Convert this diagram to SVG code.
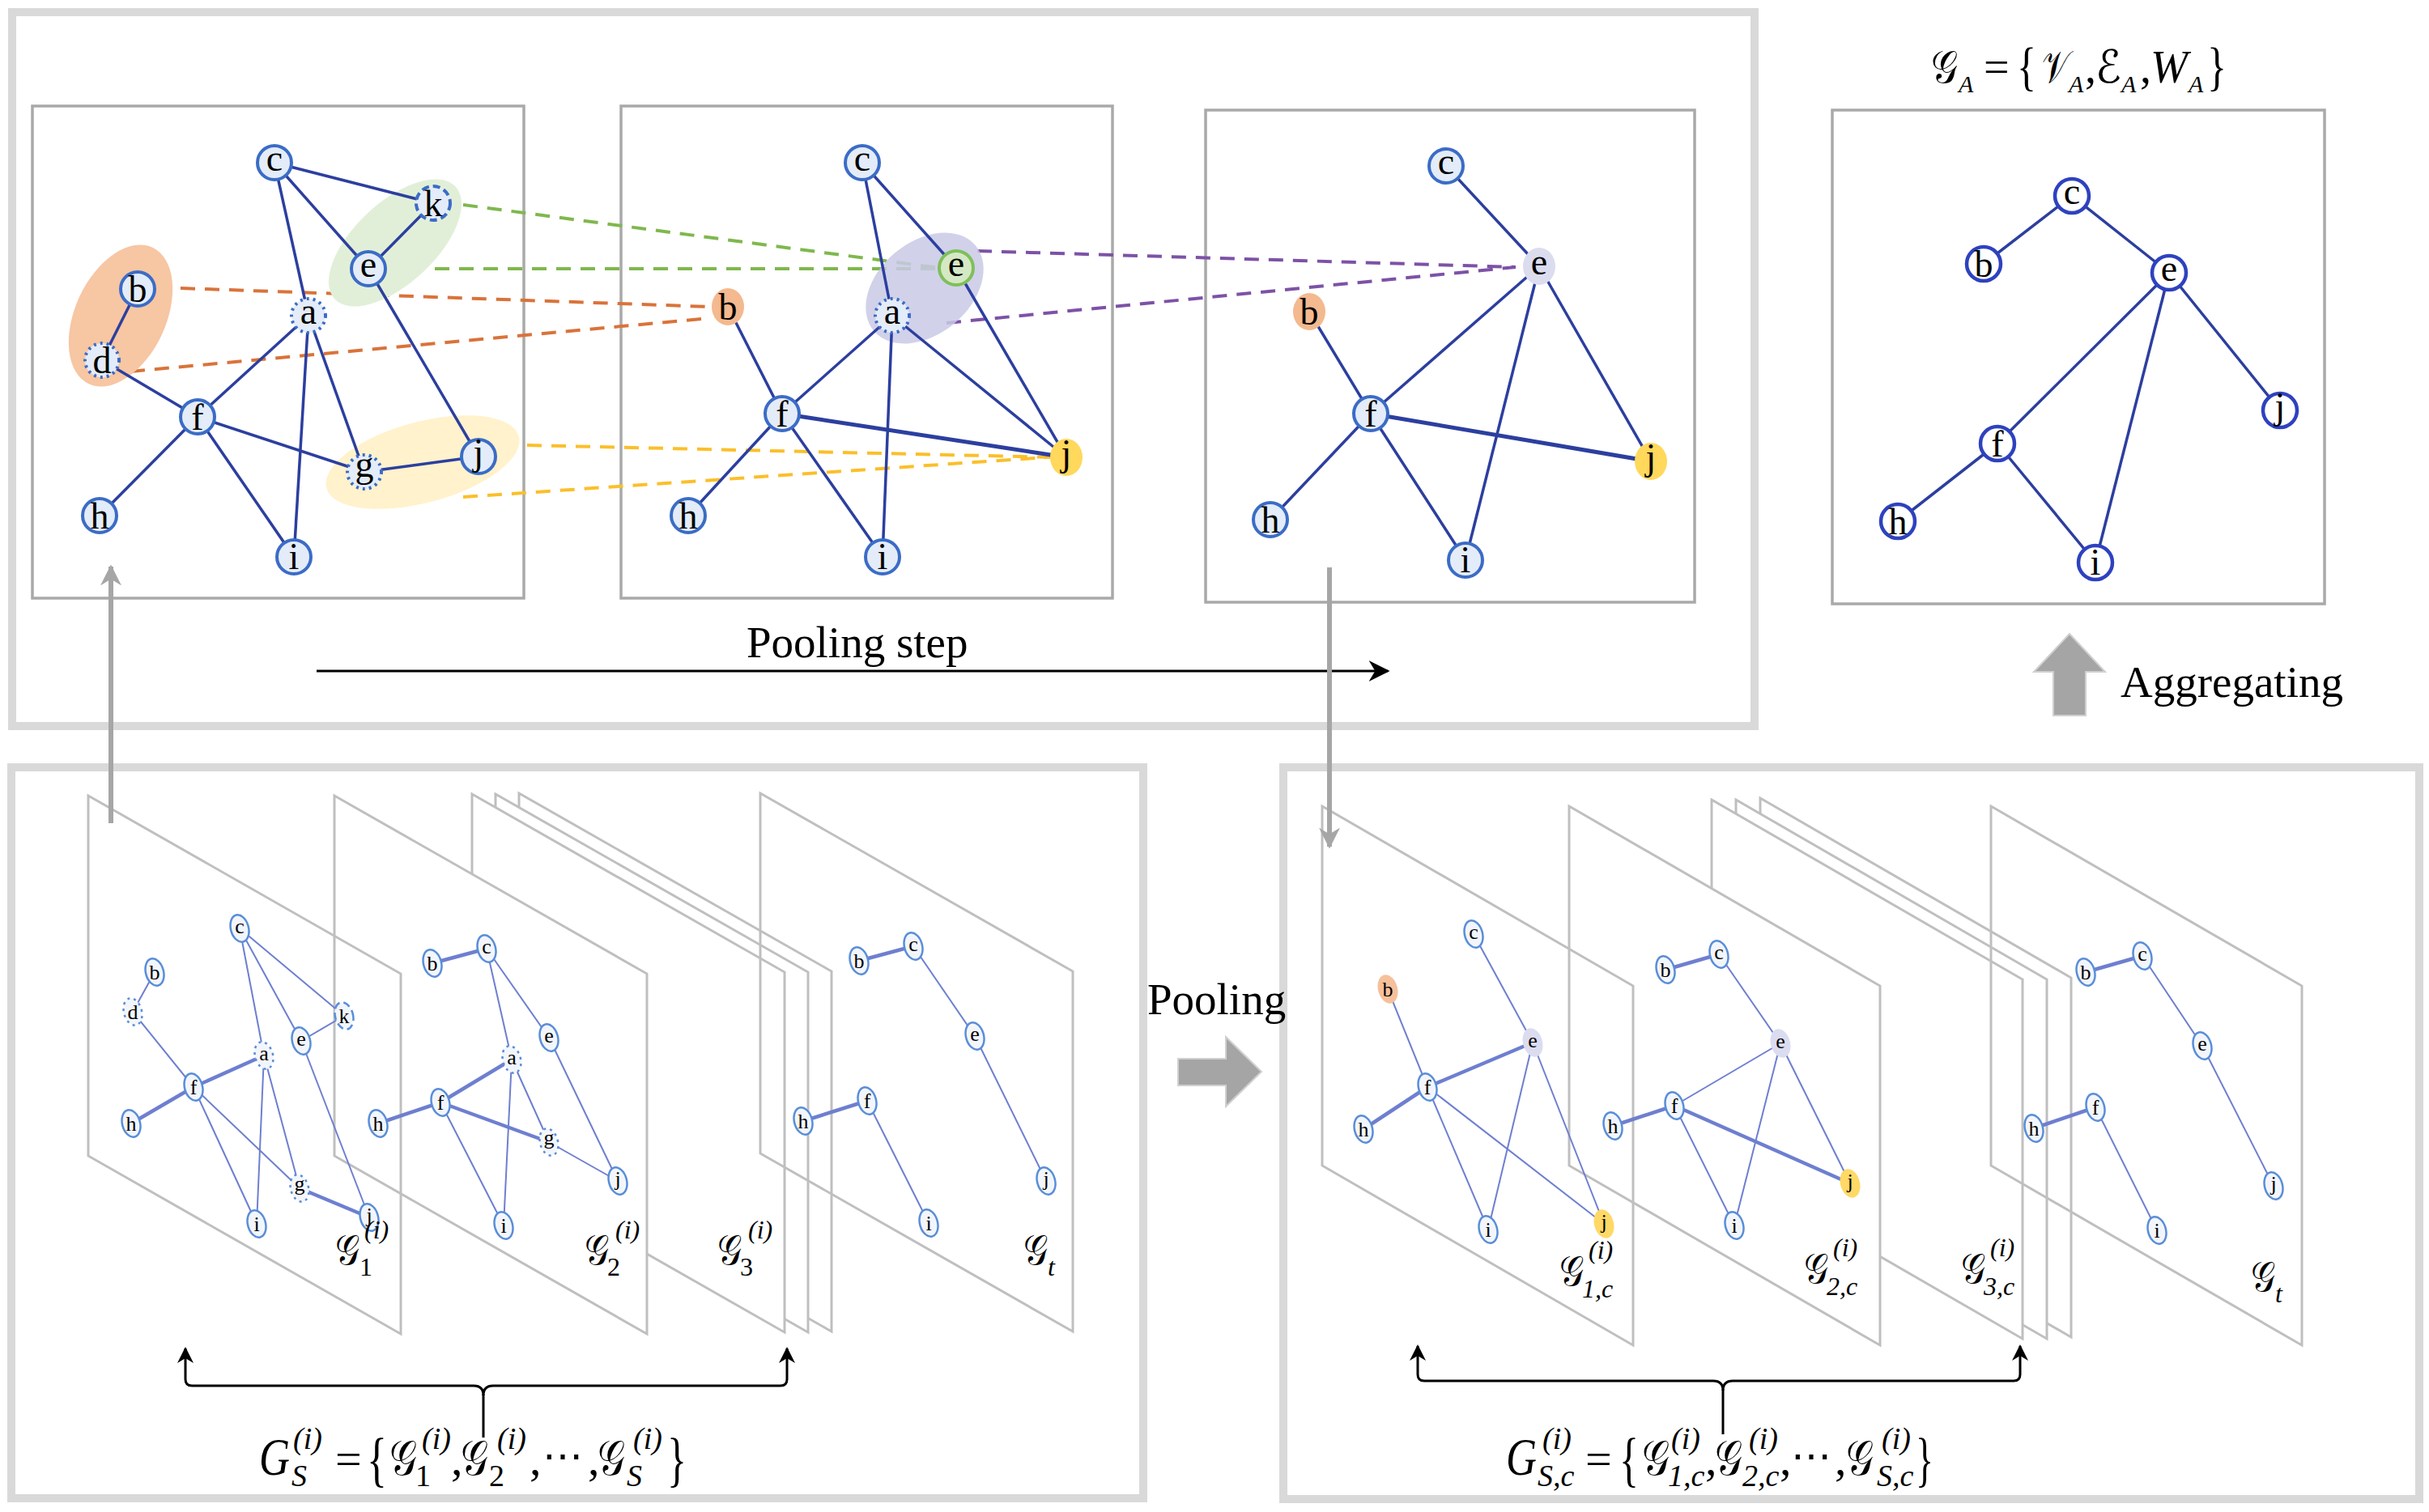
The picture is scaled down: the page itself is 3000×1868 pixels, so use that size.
<svg xmlns="http://www.w3.org/2000/svg" width="3000" height="1868" viewBox="0 0 3000 1868">
<defs>
<style>
.outer{fill:none;stroke:#d9d9d9;stroke-width:10}
.panel{fill:none;stroke:#a9a9a9;stroke-width:3.5}
.e{stroke:#2c3f9f;stroke-width:3.5;fill:none}
.et{stroke:#2c3f9f;stroke-width:5;fill:none}
.n{fill:#e3ecf8;stroke:#3b6cc6;stroke-width:4}
.dot{stroke-dasharray:3 5}
.dsh{stroke-dasharray:9 5}
.w{fill:#fff;stroke:#2e42bf;stroke-width:4.5}
.lb{font-family:"Liberation Serif","Times New Roman",serif;font-size:46px;text-anchor:middle;fill:#000}
.dl{fill:none;stroke-width:4;stroke-dasharray:18 12}
.pl{fill:#fff;stroke:#bfbfbf;stroke-width:3}
.plo{fill:none;stroke:#bfbfbf;stroke-width:3}
.se{stroke:#6e7fd0;stroke-width:2;fill:none}
.st{stroke:#6e7fd0;stroke-width:4.5;fill:none}
.sn{fill:#f2f6fc;stroke:#5a8ed8;stroke-width:2.5}
.sl{font-family:"Liberation Serif","Times New Roman",serif;font-size:26px;text-anchor:middle;fill:#000}
.tx{font-family:"Liberation Serif","Times New Roman",serif;font-size:55px;fill:#000}
.m{font-family:"Liberation Serif","Times New Roman",serif;font-style:italic;fill:#000}
.u{font-family:"Liberation Serif","Times New Roman",serif;font-style:normal;fill:#000}
.cal{font-family:"DejaVu Serif","DejaVu Sans","Noto Sans",serif;fill:#000}
.blk{stroke:#000;stroke-width:3;fill:none}
.gray{stroke:#a6a6a6;stroke-width:6;fill:none}
</style>
<marker id="ab" viewBox="0 0 10 10" refX="9" refY="5" markerWidth="20" markerHeight="20" markerUnits="userSpaceOnUse" orient="auto-start-reverse"><path d="M0,0 L10,5 L0,10 L3,5 Z" fill="#000"/></marker>
<marker id="abk" viewBox="0 0 10 10" refX="9" refY="5" markerWidth="26" markerHeight="26" markerUnits="userSpaceOnUse" orient="auto"><path d="M0,0 L10,5 L0,10 L3,5 Z" fill="#000"/></marker>
<marker id="ag" viewBox="0 0 10 10" refX="9" refY="5" markerWidth="26" markerHeight="26" markerUnits="userSpaceOnUse" orient="auto"><path d="M0,0 L10,5 L0,10 L3,5 Z" fill="#a6a6a6"/></marker>
</defs>
<rect width="3000" height="1868" fill="#fff"/>

<g id="frames">
<rect class="outer" x="15" y="15" width="2152" height="882"/>
<rect class="outer" x="14" y="948" width="1398" height="903"/>
<rect class="outer" x="1585" y="948" width="1403" height="904"/>
<rect class="panel" x="40" y="131" width="607" height="608"/>
<rect class="panel" x="767" y="131" width="607" height="608"/>
<rect class="panel" x="1489" y="136" width="604" height="608"/>
<rect class="panel" x="2263" y="136" width="608" height="610"/>
</g>

<g id="planes-left">
<polygon class="pl" points="641,980 1027,1200 1027,1645 641,1425"/>
<polygon class="pl" points="612,981 998,1201 998,1646 612,1426"/>
<polygon class="pl" points="583,981 969,1201 969,1646 583,1426"/>
<polygon class="pl" points="413,983 799,1203 799,1648 413,1428"/>
<polygon class="plo" points="109,983 495,1203 495,1648 109,1428"/>
<polygon class="plo" points="939,980 1325,1200 1325,1645 939,1425"/>
</g>
<g id="planes-right">
<polygon class="pl" points="2174,986 2558,1208 2558,1652 2174,1430"/>
<polygon class="pl" points="2144,988 2528,1210 2528,1654 2144,1432"/>
<polygon class="pl" points="2114,988 2498,1210 2498,1654 2114,1432"/>
<polygon class="pl" points="1938,996 2322,1218 2322,1662 1938,1440"/>
<polygon class="plo" points="1633,996 2017,1218 2017,1662 1633,1440"/>
<polygon class="plo" points="2459,996 2843,1218 2843,1662 2459,1440"/>
</g>

<g id="connectors">
<line class="dl" stroke="#7fb84e" x1="572" y1="253" x2="1160" y2="331"/>
<line class="dl" stroke="#7fb84e" x1="537" y1="332" x2="1160" y2="332"/>
<line class="dl" stroke="#d9733a" x1="223" y1="356" x2="877" y2="379"/>
<line class="dl" stroke="#d9733a" x1="161" y1="459" x2="877" y2="393"/>
<line class="dl" stroke="#fbbf2a" x1="651" y1="550" x2="1303" y2="565"/>
<line class="dl" stroke="#fbbf2a" x1="572" y1="614" x2="1293" y2="565"/>
<line class="dl" stroke="#7d52a6" x1="1207" y1="310" x2="1872" y2="330"/>
<line class="dl" stroke="#7d52a6" x1="1169" y1="399" x2="1872" y2="330"/>
</g>

<g id="highlights">
<ellipse cx="149" cy="390" rx="93" ry="56" transform="rotate(-65 149 390)" fill="#f7c6a3"/>
<ellipse cx="488" cy="300" rx="102" ry="50" transform="rotate(-43 488 300)" fill="#e2efd8"/>
<ellipse cx="522" cy="571" rx="123" ry="50" transform="rotate(-15 522 571)" fill="#fff2cc"/>
<ellipse cx="1142" cy="356" rx="82" ry="57" transform="rotate(-40 1142 356)" fill="#c9c9e6" fill-opacity="0.85"/>
</g>

<g id="edges">
<g id="p1-edges">
<line class="e" x1="339" y1="201" x2="535" y2="251"/>
<line class="e" x1="339" y1="201" x2="455" y2="332"/>
<line class="e" x1="339" y1="201" x2="381" y2="390"/>
<line class="e" x1="535" y1="251" x2="455" y2="332"/>
<line class="e" x1="455" y1="332" x2="591" y2="564"/>
<line class="e" x1="170" y1="357" x2="126" y2="445"/>
<line class="e" x1="126" y1="445" x2="244" y2="515"/>
<line class="e" x1="244" y1="515" x2="381" y2="390"/>
<line class="e" x1="244" y1="515" x2="450" y2="583"/>
<line class="e" x1="244" y1="515" x2="123" y2="637"/>
<line class="e" x1="244" y1="515" x2="363" y2="688"/>
<line class="e" x1="381" y1="390" x2="363" y2="688"/>
<line class="e" x1="381" y1="390" x2="450" y2="583"/>
<line class="e" x1="450" y1="583" x2="591" y2="564"/>
</g>
<g id="p2-edges">
<line class="e" x1="1065" y1="201" x2="1102" y2="390"/>
<line class="e" x1="1065" y1="201" x2="1181" y2="331"/>
<line class="e" x1="899" y1="379" x2="966" y2="511"/>
<line class="e" x1="966" y1="511" x2="1102" y2="390"/>
<line class="e" x1="966" y1="511" x2="850" y2="637"/>
<line class="e" x1="966" y1="511" x2="1090" y2="688"/>
<line class="et" x1="966" y1="511" x2="1317" y2="565"/>
<line class="e" x1="1102" y1="390" x2="1090" y2="688"/>
<line class="e" x1="1102" y1="390" x2="1317" y2="565"/>
<line class="e" x1="1181" y1="331" x2="1317" y2="565"/>
</g>
<g id="p3-edges">
<line class="e" x1="1786" y1="205" x2="1901" y2="329"/>
<line class="e" x1="1617" y1="385" x2="1693" y2="511"/>
<line class="e" x1="1693" y1="511" x2="1901" y2="329"/>
<line class="e" x1="1693" y1="511" x2="1569" y2="642"/>
<line class="e" x1="1693" y1="511" x2="1810" y2="692"/>
<line class="et" x1="1693" y1="511" x2="2039" y2="570"/>
<line class="e" x1="1901" y1="329" x2="1810" y2="692"/>
<line class="e" x1="1901" y1="329" x2="2039" y2="570"/>
</g>
<g id="p4-edges">
<line class="e" x1="2559" y1="242" x2="2450" y2="326"/>
<line class="e" x1="2559" y1="242" x2="2679" y2="337"/>
<line class="e" x1="2679" y1="337" x2="2467" y2="548"/>
<line class="e" x1="2679" y1="337" x2="2588" y2="695"/>
<line class="e" x1="2679" y1="337" x2="2816" y2="507"/>
<line class="e" x1="2467" y1="548" x2="2344" y2="644"/>
<line class="e" x1="2467" y1="548" x2="2588" y2="695"/>
</g>
<g id="l1-edges">
<line class="se" x1="296" y1="1147" x2="326" y2="1304"/>
<line class="se" x1="296" y1="1147" x2="372" y2="1286"/>
<line class="se" x1="296" y1="1147" x2="425" y2="1255"/>
<line class="se" x1="425" y1="1255" x2="372" y2="1286"/>
<line class="se" x1="372" y1="1286" x2="456" y2="1504"/>
<line class="se" x1="191" y1="1201" x2="164" y2="1250"/>
<line class="se" x1="164" y1="1250" x2="239" y2="1343"/>
<line class="st" x1="239" y1="1343" x2="326" y2="1304"/>
<line class="st" x1="239" y1="1343" x2="162" y2="1388"/>
<line class="se" x1="239" y1="1343" x2="317" y2="1512"/>
<line class="se" x1="239" y1="1343" x2="370" y2="1468"/>
<line class="se" x1="326" y1="1304" x2="317" y2="1512"/>
<line class="se" x1="326" y1="1304" x2="370" y2="1468"/>
<line class="st" x1="370" y1="1468" x2="456" y2="1504"/>
</g>
<g id="l2-edges">
<line class="st" x1="534" y1="1190" x2="601" y2="1172"/>
<line class="se" x1="601" y1="1172" x2="632" y2="1309"/>
<line class="se" x1="601" y1="1172" x2="678" y2="1282"/>
<line class="se" x1="678" y1="1282" x2="763" y2="1459"/>
<line class="st" x1="632" y1="1309" x2="544" y2="1362"/>
<line class="se" x1="632" y1="1309" x2="622" y2="1514"/>
<line class="se" x1="632" y1="1309" x2="678" y2="1411"/>
<line class="st" x1="544" y1="1362" x2="467" y2="1388"/>
<line class="st" x1="544" y1="1362" x2="678" y2="1411"/>
<line class="se" x1="544" y1="1362" x2="622" y2="1514"/>
<line class="se" x1="678" y1="1411" x2="763" y2="1459"/>
</g>
<g id="lt-edges">
<line class="st" x1="1061" y1="1187" x2="1128" y2="1169"/>
<line class="se" x1="1128" y1="1169" x2="1204" y2="1280"/>
<line class="se" x1="1204" y1="1280" x2="1292" y2="1459"/>
<line class="st" x1="992" y1="1385" x2="1071" y2="1360"/>
<line class="se" x1="1071" y1="1360" x2="1147" y2="1511"/>
</g>
<g id="r1-edges">
<line class="se" x1="1820" y1="1154" x2="1893" y2="1288"/>
<line class="se" x1="1714" y1="1222" x2="1763" y2="1343"/>
<line class="st" x1="1893" y1="1288" x2="1763" y2="1343"/>
<line class="st" x1="1763" y1="1343" x2="1684" y2="1395"/>
<line class="se" x1="1763" y1="1343" x2="1838" y2="1519"/>
<line class="se" x1="1763" y1="1343" x2="1981" y2="1512"/>
<line class="se" x1="1893" y1="1288" x2="1838" y2="1519"/>
<line class="se" x1="1893" y1="1288" x2="1981" y2="1512"/>
</g>
<g id="r2-edges">
<line class="st" x1="2057" y1="1198" x2="2123" y2="1179"/>
<line class="se" x1="2123" y1="1179" x2="2199" y2="1289"/>
<line class="se" x1="2199" y1="1289" x2="2068" y2="1366"/>
<line class="se" x1="2199" y1="1289" x2="2142" y2="1514"/>
<line class="se" x1="2199" y1="1289" x2="2285" y2="1462"/>
<line class="st" x1="2068" y1="1366" x2="1992" y2="1391"/>
<line class="se" x1="2068" y1="1366" x2="2142" y2="1514"/>
<line class="st" x1="2068" y1="1366" x2="2285" y2="1462"/>
</g>
<g id="rt-edges">
<line class="st" x1="2576" y1="1201" x2="2646" y2="1181"/>
<line class="se" x1="2646" y1="1181" x2="2720" y2="1292"/>
<line class="se" x1="2720" y1="1292" x2="2808" y2="1465"/>
<line class="st" x1="2512" y1="1394" x2="2588" y2="1368"/>
<line class="se" x1="2588" y1="1368" x2="2664" y2="1520"/>
</g>
</g>

<g id="p1">
<g id="p1-c"><circle class="n" cx="339" cy="201" r="21"/><text class="lb" x="339" y="211">c</text></g>
<g id="p1-k"><circle class="n dsh" cx="535" cy="251" r="21"/><text class="lb" x="535" y="267">k</text></g>
<g id="p1-e"><circle class="n" cx="455" cy="332" r="21"/><text class="lb" x="455" y="342">e</text></g>
<g id="p1-b"><circle class="n" cx="170" cy="357" r="21"/><text class="lb" x="170" y="373">b</text></g>
<g id="p1-a"><circle class="n dot" cx="381" cy="390" r="21"/><text class="lb" x="381" y="400">a</text></g>
<g id="p1-d"><circle class="n dot" cx="126" cy="445" r="21"/><text class="lb" x="126" y="461">d</text></g>
<g id="p1-f"><circle class="n" cx="244" cy="515" r="21"/><text class="lb" x="244" y="531">f</text></g>
<g id="p1-g"><circle class="n dot" cx="450" cy="583" r="21"/><text class="lb" x="450" y="589">g</text></g>
<g id="p1-j"><circle class="n" cx="591" cy="564" r="21"/><text class="lb" x="591" y="574">j</text></g>
<g id="p1-h"><circle class="n" cx="123" cy="637" r="21"/><text class="lb" x="123" y="653">h</text></g>
<g id="p1-i"><circle class="n" cx="363" cy="688" r="21"/><text class="lb" x="363" y="703">i</text></g>
</g>
<g id="p2">
<g id="p2-c"><circle class="n" cx="1065" cy="201" r="21"/><text class="lb" x="1065" y="211">c</text></g>
<g id="p2-e"><circle cx="1181" cy="331" r="21" fill="#d5e8c4" stroke="#7fbf5a" stroke-width="4"/><text class="lb" x="1181" y="341">e</text></g>
<g id="p2-b"><ellipse cx="899" cy="379" rx="20" ry="23" fill="#f4b98e"/><text class="lb" x="899" y="395">b</text></g>
<g id="p2-a"><circle class="n dot" cx="1102" cy="390" r="21"/><text class="lb" x="1102" y="400">a</text></g>
<g id="p2-f"><circle class="n" cx="966" cy="511" r="21"/><text class="lb" x="966" y="527">f</text></g>
<g id="p2-j"><ellipse cx="1317" cy="565" rx="20" ry="23" fill="#ffd85c"/><text class="lb" x="1317" y="575">j</text></g>
<g id="p2-h"><circle class="n" cx="850" cy="637" r="21"/><text class="lb" x="850" y="653">h</text></g>
<g id="p2-i"><circle class="n" cx="1090" cy="688" r="21"/><text class="lb" x="1090" y="703">i</text></g>
</g>
<g id="p3">
<g id="p3-c"><circle class="n" cx="1786" cy="205" r="21"/><text class="lb" x="1786" y="215">c</text></g>
<g id="p3-e"><ellipse cx="1901" cy="329" rx="20" ry="23" fill="#dcdcef"/><text class="lb" x="1901" y="339">e</text></g>
<g id="p3-b"><ellipse cx="1617" cy="385" rx="20" ry="23" fill="#f4b98e"/><text class="lb" x="1617" y="401">b</text></g>
<g id="p3-f"><circle class="n" cx="1693" cy="511" r="21"/><text class="lb" x="1693" y="527">f</text></g>
<g id="p3-j"><ellipse cx="2039" cy="570" rx="20" ry="23" fill="#ffd85c"/><text class="lb" x="2039" y="580">j</text></g>
<g id="p3-h"><circle class="n" cx="1569" cy="642" r="21"/><text class="lb" x="1569" y="658">h</text></g>
<g id="p3-i"><circle class="n" cx="1810" cy="692" r="21"/><text class="lb" x="1810" y="707">i</text></g>
</g>
<g id="p4">
<g id="p4-c"><circle class="w" cx="2559" cy="242" r="21"/><text class="lb" x="2559" y="252">c</text></g>
<g id="p4-b"><circle class="w" cx="2450" cy="326" r="21"/><text class="lb" x="2450" y="342">b</text></g>
<g id="p4-e"><circle class="w" cx="2679" cy="337" r="21"/><text class="lb" x="2679" y="347">e</text></g>
<g id="p4-j"><circle class="w" cx="2816" cy="507" r="21"/><text class="lb" x="2816" y="517">j</text></g>
<g id="p4-f"><circle class="w" cx="2467" cy="548" r="21"/><text class="lb" x="2467" y="564">f</text></g>
<g id="p4-h"><circle class="w" cx="2344" cy="644" r="21"/><text class="lb" x="2344" y="660">h</text></g>
<g id="p4-i"><circle class="w" cx="2588" cy="695" r="21"/><text class="lb" x="2588" y="710">i</text></g>
</g>

<g id="l1">
<g id="l1-c"><ellipse class="sn" cx="296" cy="1147" rx="11" ry="17" transform="rotate(-15 296 1147)"/><text class="sl" x="296" y="1153">c</text></g>
<g id="l1-b"><ellipse class="sn" cx="191" cy="1201" rx="11" ry="17" transform="rotate(-15 191 1201)"/><text class="sl" x="191" y="1210">b</text></g>
<g id="l1-d"><ellipse class="sn dot" cx="164" cy="1250" rx="11" ry="17" transform="rotate(-15 164 1250)"/><text class="sl" x="164" y="1259">d</text></g>
<g id="l1-k"><ellipse class="sn dsh" cx="425" cy="1255" rx="11" ry="17" transform="rotate(-15 425 1255)"/><text class="sl" x="425" y="1264">k</text></g>
<g id="l1-e"><ellipse class="sn" cx="372" cy="1286" rx="11" ry="17" transform="rotate(-15 372 1286)"/><text class="sl" x="372" y="1292">e</text></g>
<g id="l1-a"><ellipse class="sn dot" cx="326" cy="1304" rx="11" ry="17" transform="rotate(-15 326 1304)"/><text class="sl" x="326" y="1310">a</text></g>
<g id="l1-f"><ellipse class="sn" cx="239" cy="1343" rx="11" ry="17" transform="rotate(-15 239 1343)"/><text class="sl" x="239" y="1352">f</text></g>
<g id="l1-h"><ellipse class="sn" cx="162" cy="1388" rx="11" ry="17" transform="rotate(-15 162 1388)"/><text class="sl" x="162" y="1397">h</text></g>
<g id="l1-g"><ellipse class="sn dot" cx="370" cy="1468" rx="11" ry="17" transform="rotate(-15 370 1468)"/><text class="sl" x="370" y="1471">g</text></g>
<g id="l1-i"><ellipse class="sn" cx="317" cy="1512" rx="11" ry="17" transform="rotate(-15 317 1512)"/><text class="sl" x="317" y="1521">i</text></g>
<g id="l1-j"><ellipse class="sn" cx="456" cy="1504" rx="11" ry="17" transform="rotate(-15 456 1504)"/><text class="sl" x="456" y="1510">j</text></g>
</g>
<g id="l2">
<g id="l2-b"><ellipse class="sn" cx="534" cy="1190" rx="11" ry="17" transform="rotate(-15 534 1190)"/><text class="sl" x="534" y="1199">b</text></g>
<g id="l2-c"><ellipse class="sn" cx="601" cy="1172" rx="11" ry="17" transform="rotate(-15 601 1172)"/><text class="sl" x="601" y="1178">c</text></g>
<g id="l2-e"><ellipse class="sn" cx="678" cy="1282" rx="11" ry="17" transform="rotate(-15 678 1282)"/><text class="sl" x="678" y="1288">e</text></g>
<g id="l2-a"><ellipse class="sn dot" cx="632" cy="1309" rx="11" ry="17" transform="rotate(-15 632 1309)"/><text class="sl" x="632" y="1315">a</text></g>
<g id="l2-f"><ellipse class="sn" cx="544" cy="1362" rx="11" ry="17" transform="rotate(-15 544 1362)"/><text class="sl" x="544" y="1371">f</text></g>
<g id="l2-h"><ellipse class="sn" cx="467" cy="1388" rx="11" ry="17" transform="rotate(-15 467 1388)"/><text class="sl" x="467" y="1397">h</text></g>
<g id="l2-g"><ellipse class="sn dot" cx="678" cy="1411" rx="11" ry="17" transform="rotate(-15 678 1411)"/><text class="sl" x="678" y="1414">g</text></g>
<g id="l2-j"><ellipse class="sn" cx="763" cy="1459" rx="11" ry="17" transform="rotate(-15 763 1459)"/><text class="sl" x="763" y="1465">j</text></g>
<g id="l2-i"><ellipse class="sn" cx="622" cy="1514" rx="11" ry="17" transform="rotate(-15 622 1514)"/><text class="sl" x="622" y="1523">i</text></g>
</g>
<g id="lt">
<g id="lt-b"><ellipse class="sn" cx="1061" cy="1187" rx="11" ry="17" transform="rotate(-15 1061 1187)"/><text class="sl" x="1061" y="1196">b</text></g>
<g id="lt-c"><ellipse class="sn" cx="1128" cy="1169" rx="11" ry="17" transform="rotate(-15 1128 1169)"/><text class="sl" x="1128" y="1175">c</text></g>
<g id="lt-e"><ellipse class="sn" cx="1204" cy="1280" rx="11" ry="17" transform="rotate(-15 1204 1280)"/><text class="sl" x="1204" y="1286">e</text></g>
<g id="lt-j"><ellipse class="sn" cx="1292" cy="1459" rx="11" ry="17" transform="rotate(-15 1292 1459)"/><text class="sl" x="1292" y="1465">j</text></g>
<g id="lt-f"><ellipse class="sn" cx="1071" cy="1360" rx="11" ry="17" transform="rotate(-15 1071 1360)"/><text class="sl" x="1071" y="1369">f</text></g>
<g id="lt-h"><ellipse class="sn" cx="992" cy="1385" rx="11" ry="17" transform="rotate(-15 992 1385)"/><text class="sl" x="992" y="1394">h</text></g>
<g id="lt-i"><ellipse class="sn" cx="1147" cy="1511" rx="11" ry="17" transform="rotate(-15 1147 1511)"/><text class="sl" x="1147" y="1520">i</text></g>
</g>
<g id="r1">
<g id="r1-c"><ellipse class="sn" cx="1820" cy="1154" rx="11" ry="17" transform="rotate(-15 1820 1154)"/><text class="sl" x="1820" y="1160">c</text></g>
<g id="r1-b"><ellipse cx="1714" cy="1222" rx="12" ry="18" fill="#f6c09a" transform="rotate(-15 1714 1222)"/><text class="sl" x="1714" y="1231">b</text></g>
<g id="r1-e"><ellipse cx="1893" cy="1288" rx="12" ry="18" fill="#dcdcf0" transform="rotate(-15 1893 1288)"/><text class="sl" x="1893" y="1294">e</text></g>
<g id="r1-f"><ellipse class="sn" cx="1763" cy="1343" rx="11" ry="17" transform="rotate(-15 1763 1343)"/><text class="sl" x="1763" y="1352">f</text></g>
<g id="r1-h"><ellipse class="sn" cx="1684" cy="1395" rx="11" ry="17" transform="rotate(-15 1684 1395)"/><text class="sl" x="1684" y="1404">h</text></g>
<g id="r1-i"><ellipse class="sn" cx="1838" cy="1519" rx="11" ry="17" transform="rotate(-15 1838 1519)"/><text class="sl" x="1838" y="1528">i</text></g>
<g id="r1-j"><ellipse cx="1981" cy="1512" rx="12" ry="18" fill="#ffd966" transform="rotate(-15 1981 1512)"/><text class="sl" x="1981" y="1518">j</text></g>
</g>
<g id="r2">
<g id="r2-b"><ellipse class="sn" cx="2057" cy="1198" rx="11" ry="17" transform="rotate(-15 2057 1198)"/><text class="sl" x="2057" y="1207">b</text></g>
<g id="r2-c"><ellipse class="sn" cx="2123" cy="1179" rx="11" ry="17" transform="rotate(-15 2123 1179)"/><text class="sl" x="2123" y="1185">c</text></g>
<g id="r2-e"><ellipse cx="2199" cy="1289" rx="12" ry="18" fill="#dcdcf0" transform="rotate(-15 2199 1289)"/><text class="sl" x="2199" y="1295">e</text></g>
<g id="r2-f"><ellipse class="sn" cx="2068" cy="1366" rx="11" ry="17" transform="rotate(-15 2068 1366)"/><text class="sl" x="2068" y="1375">f</text></g>
<g id="r2-h"><ellipse class="sn" cx="1992" cy="1391" rx="11" ry="17" transform="rotate(-15 1992 1391)"/><text class="sl" x="1992" y="1400">h</text></g>
<g id="r2-j"><ellipse cx="2285" cy="1462" rx="12" ry="18" fill="#ffd966" transform="rotate(-15 2285 1462)"/><text class="sl" x="2285" y="1468">j</text></g>
<g id="r2-i"><ellipse class="sn" cx="2142" cy="1514" rx="11" ry="17" transform="rotate(-15 2142 1514)"/><text class="sl" x="2142" y="1523">i</text></g>
</g>
<g id="rt">
<g id="rt-b"><ellipse class="sn" cx="2576" cy="1201" rx="11" ry="17" transform="rotate(-15 2576 1201)"/><text class="sl" x="2576" y="1210">b</text></g>
<g id="rt-c"><ellipse class="sn" cx="2646" cy="1181" rx="11" ry="17" transform="rotate(-15 2646 1181)"/><text class="sl" x="2646" y="1187">c</text></g>
<g id="rt-e"><ellipse class="sn" cx="2720" cy="1292" rx="11" ry="17" transform="rotate(-15 2720 1292)"/><text class="sl" x="2720" y="1298">e</text></g>
<g id="rt-j"><ellipse class="sn" cx="2808" cy="1465" rx="11" ry="17" transform="rotate(-15 2808 1465)"/><text class="sl" x="2808" y="1471">j</text></g>
<g id="rt-f"><ellipse class="sn" cx="2588" cy="1368" rx="11" ry="17" transform="rotate(-15 2588 1368)"/><text class="sl" x="2588" y="1377">f</text></g>
<g id="rt-h"><ellipse class="sn" cx="2512" cy="1394" rx="11" ry="17" transform="rotate(-15 2512 1394)"/><text class="sl" x="2512" y="1403">h</text></g>
<g id="rt-i"><ellipse class="sn" cx="2664" cy="1520" rx="11" ry="17" transform="rotate(-15 2664 1520)"/><text class="sl" x="2664" y="1529">i</text></g>
</g>

<g id="arrows">
<line class="blk" x1="391" y1="829" x2="1714" y2="829" marker-end="url(#abk)"/>
<line class="gray" x1="137" y1="1017" x2="137" y2="700" marker-end="url(#ag)"/>
<line class="gray" x1="1642" y1="701" x2="1642" y2="1046" marker-end="url(#ag)"/>
<polygon points="1455,1308 1514,1308 1514,1281 1558,1324 1514,1367 1514,1341 1455,1341" fill="#a5a5a5" stroke="#d0d0d0" stroke-width="2"/>
<polygon points="2536,884 2536,830 2512,830 2556,783 2600,830 2576,830 2576,884" fill="#a5a5a5" stroke="#d0d0d0" stroke-width="2"/>
<path class="blk" d="M229,1666 V1704 Q229,1712 237,1712 H585 Q597,1712 597,1724 Q597,1712 609,1712 H964 Q972,1712 972,1704 V1666" stroke-width="2.5" marker-start="url(#ab)" marker-end="url(#ab)"/>
<line class="blk" x1="597" y1="1722" x2="597" y2="1776" stroke-width="2.5"/>
<path class="blk" d="M1751,1663 V1698 Q1751,1706 1759,1706 H2116 Q2128,1706 2128,1718 Q2128,1706 2140,1706 H2487 Q2495,1706 2495,1698 V1663" stroke-width="2.5" marker-start="url(#ab)" marker-end="url(#ab)"/>
<line class="blk" x1="2128" y1="1716" x2="2128" y2="1772" stroke-width="2.5"/>
</g>

<g id="labels">
<text class="tx" x="922" y="812">Pooling  step</text>
<text class="tx" x="1417" y="1253">Pooling</text>
<text class="tx" x="2619" y="861">Aggregating</text>

<g id="title">
<text class="cal" x="2385" y="102" font-size="56" textLength="33" lengthAdjust="spacingAndGlyphs">𝒢</text>
<text class="m" x="2419" y="114" font-size="30">A</text>
<text class="u" x="2450" y="102" font-size="56">=</text>
<text class="u" x="2491" y="104" font-size="66" textLength="24" lengthAdjust="spacingAndGlyphs">{</text>
<text class="cal" x="2522" y="102" font-size="56" textLength="34" lengthAdjust="spacingAndGlyphs">𝒱</text>
<text class="m" x="2555" y="114" font-size="30">A</text>
<text class="u" x="2575" y="102" font-size="56">,</text>
<text class="cal" x="2588" y="102" font-size="56" textLength="32" lengthAdjust="spacingAndGlyphs">ℰ</text>
<text class="m" x="2620" y="114" font-size="30">A</text>
<text class="u" x="2643" y="102" font-size="56">,</text>
<text class="m" x="2656" y="102" font-size="56" textLength="46" lengthAdjust="spacingAndGlyphs">W</text>
<text class="m" x="2703" y="114" font-size="30">A</text>
<text class="u" x="2726" y="104" font-size="66" textLength="24" lengthAdjust="spacingAndGlyphs">}</text>
</g>

<g id="plane-labels-left">
<text class="cal" x="414" y="1562" font-size="52" textLength="30" lengthAdjust="spacingAndGlyphs">𝒢</text><text class="u" x="444" y="1576" font-size="32">1</text><text class="m" x="450" y="1530" font-size="32">(i)</text>
<text class="cal" x="722" y="1562" font-size="52" textLength="30" lengthAdjust="spacingAndGlyphs">𝒢</text><text class="u" x="750" y="1576" font-size="32">2</text><text class="m" x="760" y="1530" font-size="32">(i)</text>
<text class="cal" x="886" y="1562" font-size="52" textLength="30" lengthAdjust="spacingAndGlyphs">𝒢</text><text class="u" x="914" y="1576" font-size="32">3</text><text class="m" x="924" y="1530" font-size="32">(i)</text>
<text class="cal" x="1264" y="1562" font-size="52" textLength="30" lengthAdjust="spacingAndGlyphs">𝒢</text><text class="m" x="1294" y="1576" font-size="32">t</text>
</g>
<g id="plane-labels-right">
<text class="cal" x="1926" y="1588" font-size="52" textLength="30" lengthAdjust="spacingAndGlyphs">𝒢</text><text class="m" x="1954" y="1603" font-size="32">1,c</text><text class="m" x="1962" y="1555" font-size="32">(i)</text>
<text class="cal" x="2228" y="1585" font-size="52" textLength="30" lengthAdjust="spacingAndGlyphs">𝒢</text><text class="m" x="2256" y="1600" font-size="32">2,c</text><text class="m" x="2264" y="1552" font-size="32">(i)</text>
<text class="cal" x="2422" y="1585" font-size="52" textLength="30" lengthAdjust="spacingAndGlyphs">𝒢</text><text class="m" x="2450" y="1600" font-size="32">3,c</text><text class="m" x="2458" y="1552" font-size="32">(i)</text>
<text class="cal" x="2780" y="1595" font-size="52" textLength="30" lengthAdjust="spacingAndGlyphs">𝒢</text><text class="m" x="2810" y="1609" font-size="32">t</text>
</g>

<g id="formula-left">
<text class="m" x="320" y="1822" font-size="66" textLength="38" lengthAdjust="spacingAndGlyphs">G</text>
<text class="m" x="360" y="1836" font-size="38">S</text>
<text class="m" x="362" y="1790" font-size="38">(i)</text>
<text class="u" x="414" y="1822" font-size="58">=</text>
<text class="u" x="453" y="1828" font-size="74" textLength="25" lengthAdjust="spacingAndGlyphs">{</text>
<text class="cal" x="481" y="1822" font-size="60" textLength="34" lengthAdjust="spacingAndGlyphs">𝒢</text>
<text class="u" x="513" y="1836" font-size="38">1</text>
<text class="m" x="521" y="1790" font-size="38">(i)</text>
<text class="u" x="557" y="1822" font-size="58">,</text>
<text class="cal" x="569" y="1822" font-size="60" textLength="34" lengthAdjust="spacingAndGlyphs">𝒢</text>
<text class="u" x="604" y="1836" font-size="38">2</text>
<text class="m" x="614" y="1790" font-size="38">(i)</text>
<text class="u" x="654" y="1822" font-size="58">,</text>
<text class="u" x="670" y="1815" font-size="50">⋯</text>
<text class="u" x="726" y="1822" font-size="58">,</text>
<text class="cal" x="738" y="1822" font-size="60" textLength="34" lengthAdjust="spacingAndGlyphs">𝒢</text>
<text class="m" x="774" y="1836" font-size="38">S</text>
<text class="m" x="782" y="1790" font-size="38">(i)</text>
<text class="u" x="824" y="1828" font-size="74" textLength="24" lengthAdjust="spacingAndGlyphs">}</text>
</g>

<g id="formula-right">
<text class="m" x="1860" y="1822" font-size="66" textLength="38" lengthAdjust="spacingAndGlyphs">G</text>
<text class="m" x="1899" y="1836" font-size="38">S,c</text>
<text class="m" x="1905" y="1790" font-size="38">(i)</text>
<text class="u" x="1958" y="1822" font-size="58">=</text>
<text class="u" x="2000" y="1828" font-size="74" textLength="24" lengthAdjust="spacingAndGlyphs">{</text>
<text class="cal" x="2028" y="1822" font-size="60" textLength="34" lengthAdjust="spacingAndGlyphs">𝒢</text>
<text class="m" x="2060" y="1836" font-size="38">1,c</text>
<text class="m" x="2064" y="1790" font-size="38">(i)</text>
<text class="u" x="2106" y="1822" font-size="58">,</text>
<text class="cal" x="2118" y="1822" font-size="60" textLength="34" lengthAdjust="spacingAndGlyphs">𝒢</text>
<text class="m" x="2152" y="1836" font-size="38">2,c</text>
<text class="m" x="2160" y="1790" font-size="38">(i)</text>
<text class="u" x="2198" y="1822" font-size="58">,</text>
<text class="u" x="2212" y="1815" font-size="50">⋯</text>
<text class="u" x="2266" y="1822" font-size="58">,</text>
<text class="cal" x="2280" y="1822" font-size="60" textLength="34" lengthAdjust="spacingAndGlyphs">𝒢</text>
<text class="m" x="2318" y="1836" font-size="38">S,c</text>
<text class="m" x="2324" y="1790" font-size="38">(i)</text>
<text class="u" x="2366" y="1828" font-size="74" textLength="22" lengthAdjust="spacingAndGlyphs">}</text>
</g>
</g>
</svg>
